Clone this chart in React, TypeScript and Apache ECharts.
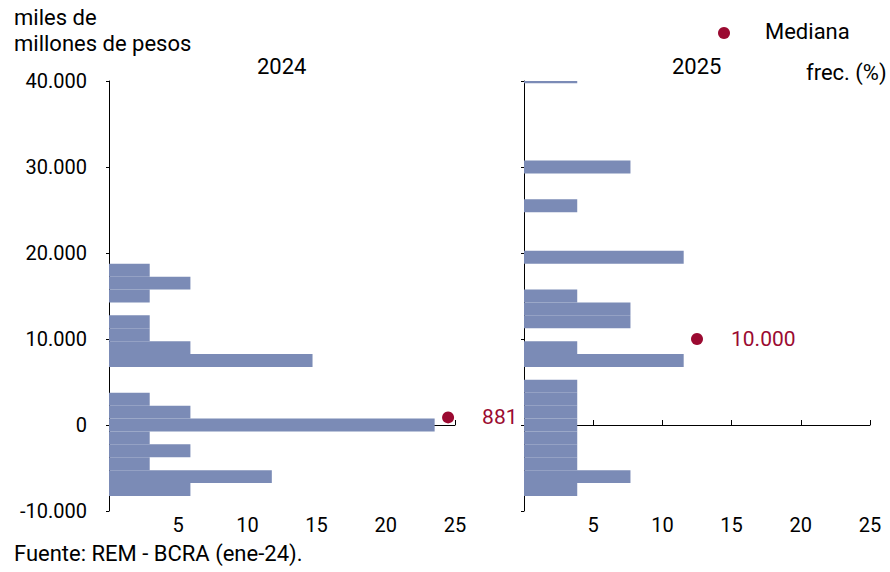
import React, { useEffect, useRef } from "react";
import * as echarts from "echarts";

const binWidth = 1500;
const binStarts = [-8250, -6750, -5250, -3750, -2250, -750, 750, 2250, 3750, 5250, 6750, 8250, 9750, 11250, 12750, 14250, 15750, 17250, 18750, 20250, 21750, 23250, 24750, 26250, 27750, 29250, 30750, 32250, 33750, 35250, 36750, 38250, 39750];
const f = 100 / 34;
const g = 100 / 26;
const freq2024 = [2, 4, 1, 2, 1, 8, 2, 1, 0, 0, 5, 2, 1, 1, 0, 1, 2, 1, 0, 0, 0, 0, 0, 0, 0, 0, 0, 0, 0, 0, 0, 0, 0].map((c) => c * f);
const freq2025 = [1, 2, 1, 1, 1, 1, 1, 1, 1, 0, 3, 1, 0, 2, 2, 1, 0, 0, 3, 0, 0, 0, 1, 0, 0, 2, 0, 0, 0, 0, 0, 0, 1].map((c) => c * g);
const median2024 = [24.5, 881];
const median2025 = [12.5, 10000];
const medianLabels = ["881", "10.000"];
const years = ["2024", "2025"];

const BAR = "#7b8bb6";
const RED = "#9b0a31";
const FONT = "Roboto";

const fmt = (v: number) => {
  const s = Math.abs(v).toString().replace(/\B(?=(\d{3})+(?!\d))/g, ".");
  return (v < 0 ? "-" : "") + s;
};

function histSeries(freq: number[], idx: number) {
  return {
    type: "custom",
    xAxisIndex: idx * 2,
    yAxisIndex: idx,
    data: binStarts.map((s, i) => [s, s + binWidth, freq[i]]).filter((d) => d[2] > 0),
    renderItem: (params: any, api: any) => {
      const p0 = api.coord([0, api.value(1)]);
      const p1 = api.coord([api.value(2), api.value(0)]);
      const cs = params.coordSys;
      const shape = echarts.graphic.clipRectByRect(
        { x: p0[0], y: p0[1], width: p1[0] - p0[0], height: p1[1] - p0[1] },
        { x: cs.x, y: cs.y, width: cs.width, height: cs.height }
      );
      if (!shape) return null;
      return { type: "rect", shape, style: { fill: BAR } };
    },
    z: 2,
  };
}

export default function App() {
  const ref = useRef<HTMLDivElement>(null);
  useEffect(() => {
    document.body.style.margin = "0";
    const chart = echarts.init(ref.current!, null, { renderer: "svg" });
    const lefts = [109, 524];
    const grids = lefts.map((l) => ({ left: l, width: 346, top: 81, height: 430 }));
    const xAxes: any[] = [];
    const yAxes: any[] = [];
    [0, 1].forEach((i) => {
      xAxes.push({
        type: "value", gridIndex: i, min: 0, max: 25, interval: 5,
        axisLine: { show: true, onZero: true, lineStyle: { color: "#000" } },
        axisTick: { show: true, inside: true, length: 5, lineStyle: { color: "#000" } },
        axisLabel: { show: false }, splitLine: { show: false },
      });
      xAxes.push({
        type: "value", gridIndex: i, min: 0, max: 25, interval: 5, position: "bottom",
        axisLine: { show: false, onZero: false }, axisTick: { show: false }, splitLine: { show: false },
        axisLabel: { show: true, color: "#000", fontFamily: FONT, fontSize: 20, margin: 4,
          formatter: (v: number) => (v === 0 ? "" : String(v)) },
      });
      yAxes.push({
        type: "value", gridIndex: i, min: -10000, max: 40000, interval: 10000,
        axisLine: { show: true, onZero: false, lineStyle: { color: "#000" } },
        axisTick: { show: true, length: 3, lineStyle: { color: "#000" } },
        splitLine: { show: false },
        axisLabel: { show: i === 0, color: "#000", fontFamily: FONT, fontSize: 20, margin: 22, formatter: fmt },
      });
    });
    const medians = [median2024, median2025];
    const tf = `22px ${FONT}`;
    chart.setOption({
      animation: false,
      grid: grids,
      xAxis: xAxes,
      yAxis: yAxes,
      series: [
        histSeries(freq2024, 0),
        histSeries(freq2025, 1),
        ...[0, 1].map((i) => ({
          type: "scatter", xAxisIndex: i * 2, yAxisIndex: i, symbolSize: 12,
          itemStyle: { color: RED, opacity: 1 }, data: [medians[i]], z: 5,
          label: { show: true, position: "right", distance: 28, color: RED, fontFamily: FONT, fontSize: 21,
            formatter: () => medianLabels[i] },
        })),
      ],
      graphic: [
        { type: "text", left: 14, top: 4, style: { text: "miles de\nmillones de pesos", font: tf, fill: "#000", lineHeight: 26 } },
        { type: "text", left: 257, top: 55, style: { text: years[0], font: tf, fill: "#000" } },
        { type: "text", left: 672, top: 55, style: { text: years[1], font: tf, fill: "#000" } },
        { type: "text", left: 806, top: 61, style: { text: "frec. (%)", font: tf, fill: "#000" } },
        { type: "circle", shape: { cx: 724, cy: 33, r: 6 }, style: { fill: RED } },
        { type: "text", left: 765, top: 20, style: { text: "Mediana", font: tf, fill: "#000" } },
        { type: "text", left: 14, top: 542, style: { text: "Fuente: REM - BCRA (ene-24).", font: tf, fill: "#000" } },
      ],
    });
    return () => chart.dispose();
  }, []);
  return <div ref={ref} style={{ width: 890, height: 572 }} />;
}
